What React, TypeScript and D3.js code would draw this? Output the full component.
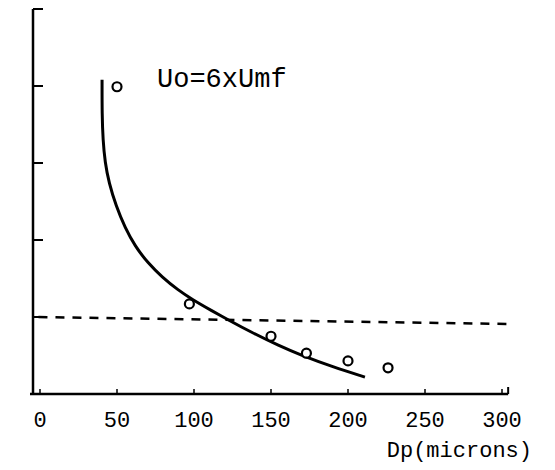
import React from "react";
import * as d3 from "d3";

// ---- data ----
const xTicks = [0, 50, 100, 150, 200, 250, 300];
const yTicks = [1, 2, 3, 4];

// measured points
const pointDp = [50, 97, 150, 173, 200, 226];
const pointY = [3.99, 1.17, 0.75, 0.53, 0.43, 0.34];

// fitted curve
const curveDp = [40.3, 40.3, 40.9, 42.2, 44.8, 49.4, 55.2, 61.7, 70.1, 79.2, 89.6, 98.7, 111.7, 123.4, 136.4, 155.8, 168.8, 190.3, 211.0];
const curveY = [4.08, 3.62, 3.30, 3.01, 2.74, 2.44, 2.16, 1.92, 1.70, 1.52, 1.35, 1.23, 1.08, 0.95, 0.81, 0.62, 0.51, 0.35, 0.22];

// dashed reference line
const dashDp = [-1, 304];
const dashY = [1.0, 0.91];

const annotation = "Uo=6xUmf";
const xTitle = "Dp(microns)";

const W = 555;
const H = 470;
const FONT = "'Liberation Mono', 'DejaVu Sans Mono', monospace";

export default function App() {
  const x = d3.scaleLinear().domain([0, 300]).range([40, 502]);
  const y = d3.scaleLinear().domain([0, 5]).range([394, 9]);
  const axisX = 33;
  const axisY = y(0);

  const curvePts: [number, number][] = curveDp.map((d, i) => [x(d), y(curveY[i])]);
  const line = d3.line().curve(d3.curveBasis);
  const dashPts: [number, number][] = dashDp.map((d, i) => [x(d), y(dashY[i])]);

  return (
    <svg
      width={W}
      height={H}
      style={{ position: "absolute", left: 0, top: 0, background: "#fff" }}
    >
      <rect x={0} y={0} width={W} height={H} fill="#fff" />
      {/* y axis */}
      <line x1={axisX} x2={axisX} y1={y(5)} y2={axisY} stroke="#000" strokeWidth={2.5} />
      <line x1={axisX} x2={axisX + 10} y1={y(5)} y2={y(5)} stroke="#000" strokeWidth={2} />
      {yTicks.map((t) => (
        <line key={t} x1={axisX} x2={axisX + 10} y1={y(t)} y2={y(t)} stroke="#000" strokeWidth={2} />
      ))}
      {/* x axis */}
      <line x1={30} x2={x(304)} y1={axisY} y2={axisY} stroke="#000" strokeWidth={2.5} />
      <line x1={x(304)} x2={x(304)} y1={axisY} y2={axisY - 7} stroke="#000" strokeWidth={2} />
      {xTicks.map((t) => (
        <g key={t}>
          <line x1={x(t)} x2={x(t)} y1={axisY} y2={axisY - 5} stroke="#000" strokeWidth={1.5} />
          <text
            x={x(t)}
            y={427}
            textAnchor="middle"
            fontFamily={FONT}
            fontSize={22}
            fill="#000"
          >
            {t}
          </text>
        </g>
      ))}
      <text x={532} y={457} textAnchor="end" fontFamily={FONT} fontSize={22} fill="#000">
        {xTitle}
      </text>
      {/* dashed line */}
      <path
        d={d3.line()(dashPts) || ""}
        fill="none"
        stroke="#000"
        strokeWidth={2.5}
        strokeDasharray="9,8"
      />
      {/* curve */}
      <path d={line(curvePts) || ""} fill="none" stroke="#000" strokeWidth={3} />
      {/* points */}
      {pointDp.map((d, i) => (
        <circle
          key={i}
          cx={x(d)}
          cy={y(pointY[i])}
          r={4.5}
          fill="#fff"
          stroke="#000"
          strokeWidth={2.2}
        />
      ))}
      <text x={157} y={87} fontFamily={FONT} fontSize={27} fill="#000">
        {annotation}
      </text>
    </svg>
  );
}
